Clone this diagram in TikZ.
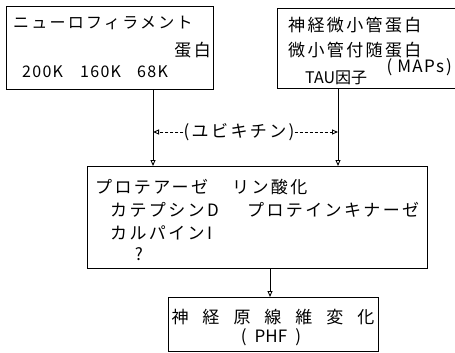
\documentclass[tikz,border=0pt]{standalone}
\usepackage{fontspec}
\setmainfont{Noto Sans CJK JP}
\newfontfamily\jpfont[LetterSpace=14]{Noto Sans CJK JP}
\newfontfamily\latfont[LetterSpace=8]{Noto Sans CJK JP}
\usetikzlibrary{arrows.meta}
\tikzset{
  box/.style={draw, line width=1pt, inner sep=0pt, anchor=north west},
  jp/.style={inner sep=0pt, font=\jpfont\fontsize{17}{19}\selectfont},
  jps/.style={inner sep=0pt, font=\jpfont\fontsize{16}{18}\selectfont},
  lat/.style={inner sep=0pt, font=\latfont\fontsize{16}{18}\selectfont},
  latb/.style={inner sep=0pt, font=\latfont\fontsize{17}{19}\selectfont},
  pl/.style={inner sep=0pt, font=\fontsize{17}{19}\selectfont},
  conn/.style={line width=0.9pt, -{Triangle[open,length=6pt,width=5pt]}},
  dconn/.style={line width=0.9pt, dash pattern=on 3pt off 2pt, -{Triangle[open,length=6pt,width=5pt]}}
}
\begin{document}
\begin{tikzpicture}[x=1pt,y=-1pt]
\useasboundingbox (0,0) rectangle (455,353);
% boxes
\node[box, minimum width=207pt, minimum height=83pt] (b1) at (6,6) {};
\node[box, minimum width=181pt, minimum height=80pt] (b2) at (277,8) {};
\node[box, minimum width=340pt, minimum height=102pt] (b3) at (87,166) {};
\node[box, minimum width=210pt, minimum height=54pt] (b4) at (168,297) {};
% box 1 text
\node[jps, anchor=west] (t11) at (13,23) {ニューロフィラメント};
\node[jp, anchor=east] (t12) at (211,50) {蛋白};
\node[lat, anchor=west] (t13) at (22,72) {200K};
\node[lat, anchor=west] (t14) at (80,72) {160K};
\node[lat, anchor=west] (t15) at (137,72) {68K};
% box 2 text
\node[jp, anchor=west] (t21) at (288,25) {神経微小管蛋白};
\node[jp, anchor=west] (t22) at (288,50) {微小管付随蛋白};
\node[latb, anchor=east] (t23) at (452,67) {(\hspace{5pt}MAPs\hspace{2pt})};
\node[inner sep=0pt, font=\fontsize{16}{18}\selectfont, anchor=west] (t24) at (305,78) {TAU因子};
% ubiquitin
\node[jp] (ub) at (239,132) {(ユビキチン)};
\coordinate (xl) at (153,0);
\coordinate (xr) at (338,0);
\coordinate (xm) at (270,0);
\draw[dconn] (ub.west) -- (ub.west -| xl);
\draw[dconn] (ub.east) -- (ub.east -| xr);
% box 3 text
\node[jp, anchor=west] (t31) at (95,187) {プロテアーゼ};
\node[jp, anchor=west] (t32) at (232,187) {リン酸化};
\node[jp, anchor=west] (t33) at (110,210) {カテプシンD};
\node[jp, anchor=west] (t34) at (247,210) {プロテインキナーゼ};
\node[jp, anchor=west] (t35) at (110,233) {カルパインI};
\node[pl] (t36) at (139,254) {?};
% box 4 text
\node[pl] (t41) at (273,317) {神\hspace{14pt}経\hspace{14pt}原\hspace{14pt}線\hspace{14pt}維\hspace{14pt}変\hspace{14pt}化};
\node[pl] (t42) at (271,337) {(\hspace{8pt}PHF\hspace{8pt})};
% connectors
\draw[conn] (b1.south -| xl) -- (b3.north -| xl);
\draw[conn] (b2.south -| xr) -- (b3.north -| xr);
\draw[conn] (b3.south -| xm) -- (b4.north -| xm);
\end{tikzpicture}
\end{document}
